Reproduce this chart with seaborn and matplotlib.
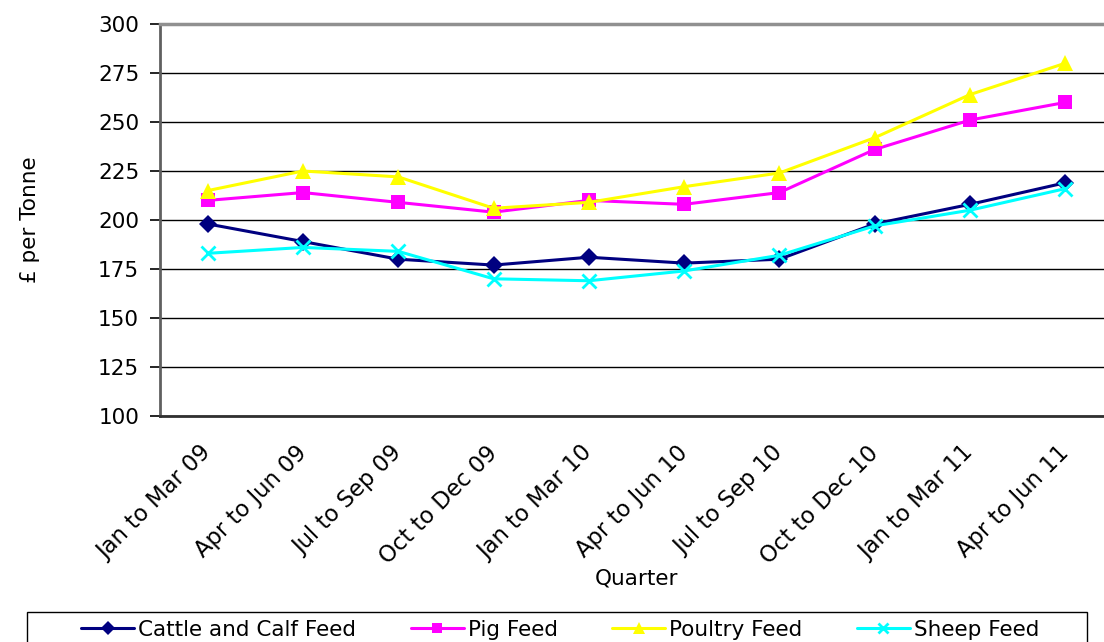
import matplotlib
matplotlib.use("Agg")
import matplotlib.pyplot as plt
from matplotlib.patches import Rectangle
import pandas as pd
import seaborn as sns

quarters = ["Jan to Mar 09", "Apr to Jun 09", "Jul to Sep 09", "Oct to Dec 09",
            "Jan to Mar 10", "Apr to Jun 10", "Jul to Sep 10", "Oct to Dec 10",
            "Jan to Mar 11", "Apr to Jun 11"]
cattle_and_calf = [198, 189, 180, 177, 181, 178, 180, 198, 208, 219]
pig = [210, 214, 209, 204, 210, 208, 214, 236, 251, 260]
poultry = [215, 225, 222, 206, 209, 217, 224, 242, 264, 280]
sheep = [183, 186, 184, 170, 169, 174, 182, 197, 205, 216]

series_names = ["Cattle and Calf Feed", "Pig Feed", "Poultry Feed", "Sheep Feed"]
series_values = [cattle_and_calf, pig, poultry, sheep]
y_ticks = [100, 125, 150, 175, 200, 225, 250, 275, 300]

colors = {"Cattle and Calf Feed": "#000080", "Pig Feed": "#FF00FF",
          "Poultry Feed": "#FFFF00", "Sheep Feed": "#00FFFF"}
markers = {"Cattle and Calf Feed": "D", "Pig Feed": "s",
           "Poultry Feed": "^", "Sheep Feed": "x"}
marker_sizes = {"D": 9, "s": 9.5, "^": 11, "x": 10}

df = pd.DataFrame({
    "Quarter": quarters * len(series_names),
    "Price": [v for vals in series_values for v in vals],
    "Feed": [n for n in series_names for _ in quarters],
})

sns.set_theme(style="white")
plt.rcParams["font.family"] = ["DejaVu Sans"]
plt.rcParams.update({"text.color": "black", "axes.labelcolor": "black",
                     "xtick.color": "black", "ytick.color": "black"})
FS = 15.5

fig = plt.figure(figsize=(11.04, 6.42), dpi=100)
W, H = 1104, 642
ax = fig.add_axes([160 / W, 1 - 416 / H, 953 / W, (416 - 24) / H])

for name in series_names:
    sub = df[df["Feed"] == name]
    m = markers[name]
    sns.lineplot(data=sub, x="Quarter", y="Price", ax=ax, sort=False,
                 color=colors[name], marker=m, markersize=marker_sizes[m],
                 markeredgewidth=2 if m == "x" else 0,
                 markeredgecolor=colors[name], linewidth=2.2,
                 label=name, legend=False)

ax.set_ylim(100, 300)
ax.set_xlim(-0.5, len(quarters) - 0.5)
ax.set_yticks(y_ticks)
ax.set_yticklabels([str(t) for t in y_ticks], fontsize=FS)
ax.yaxis.grid(True, color="black", linewidth=1.0)
ax.set_axisbelow(True)

# category labels sit between boundary tick marks
ax.set_xticks(range(len(quarters)))
ax.set_xticklabels(quarters, fontsize=16.3, rotation=45, ha="right",
                   va="center", rotation_mode="anchor")
ax.set_xticks([i - 0.5 for i in range(len(quarters) + 1)], minor=True)
ax.tick_params(axis="x", which="major", length=0, pad=24)
ax.tick_params(axis="x", which="minor", length=7, width=1.2, color="black")
ax.tick_params(axis="y", length=7, width=1.2, color="black", left=True, pad=8)

ax.set_xlabel("Quarter", fontsize=FS, labelpad=0)
ax.set_ylabel("£ per Tonne", fontsize=FS, labelpad=42)

ax.spines["left"].set_color("#606060")
ax.spines["left"].set_linewidth(2)
ax.spines["bottom"].set_color("#303030")
ax.spines["bottom"].set_linewidth(2)
ax.spines["top"].set_color("#909090")
ax.spines["top"].set_linewidth(2.5)
ax.spines["right"].set_visible(False)

handles, labels = ax.get_legend_handles_labels()
fs_px = FS * 100 / 72
leg = fig.legend(handles, labels, loc="center left", ncol=4,
                 bbox_to_anchor=(81 / W, 1 - 630 / H),
                 fontsize=FS, frameon=False, borderpad=0, borderaxespad=0,
                 handlelength=53 / fs_px, handletextpad=4 / fs_px,
                 columnspacing=54.5 / fs_px, markerscale=0.75)

# legend frame running off the lower edge of the figure
fig.patches.append(Rectangle((26.5 / W, -0.03), (1086.5 - 26.5) / W, 1 - 612 / H + 0.03,
                             transform=fig.transFigure, fill=False,
                             edgecolor="black", linewidth=1.0))

fig.savefig("out.png", dpi=100, facecolor="white")
